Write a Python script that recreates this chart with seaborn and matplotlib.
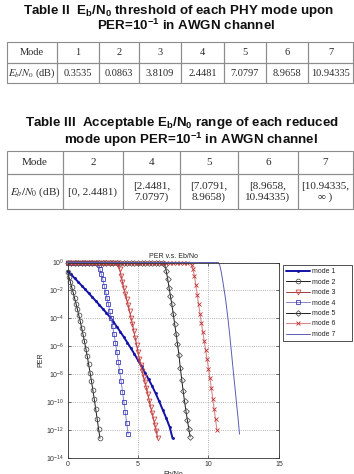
import matplotlib
matplotlib.use("Agg")
import matplotlib.pyplot as plt
from matplotlib.patches import Rectangle
from matplotlib.ticker import NullLocator
import pandas as pd
import seaborn as sns

sns.set_style("ticks")
plt.rcParams["font.family"] = ["Liberation Sans", "DejaVu Sans"]
plt.rcParams["mathtext.rm"] = "Liberation Sans:bold"
plt.rcParams["mathtext.it"] = "Liberation Sans:bold"
plt.rcParams["mathtext.bf"] = "Liberation Sans:bold"

# ---- tables
table2_modes = ["1", "2", "3", "4", "5", "6", "7"]
table2_thresholds = ["0.3535", "0.0863", "3.8109", "2.4481", "7.0797", "8.9658", "10.94335"]
table3_modes = ["2", "4", "5", "6", "7"]
table3_ranges = ["[0, 2.4481)", "[2.4481,\n7.0797)", "[7.0791,\n8.9658)",
                 "[8.9658,\n10.94335)", "[10.94335,\n\u221e )"]

# ---- PER curves (log10 PER)
flat_ebno = [0.0, 0.25, 0.5, 0.75, 1.0, 1.25, 1.5, 1.75, 2.0, 2.25, 2.5, 2.75,
             3.0, 3.25, 3.5, 3.75, 4.0, 4.25, 4.5, 4.75, 5.0, 5.25, 5.5, 5.75,
             6.0, 6.25, 6.5, 6.75, 7.0, 7.25, 7.5, 7.75, 8.0, 8.25, 8.5, 8.75]
flat_until = {"mode 3": 3.5, "mode 4": 2.1, "mode 5": 6.8, "mode 6": 8.6}

mode1_ebno = [0.0, 0.25, 0.5, 0.75, 1.0, 1.25, 1.5, 1.75, 2.0, 2.25, 2.5, 2.75,
              3.0, 3.25, 3.5, 3.75, 4.0, 4.25, 4.5, 4.75, 5.0, 5.25, 5.5, 5.75,
              6.0, 6.25, 6.5, 6.75, 7.0, 7.25, 7.45]
mode1_logper = [-0.6, -0.86, -1.12, -1.38, -1.65, -1.92, -2.2, -2.47, -2.75, -3.03,
                -3.32, -3.6, -3.9, -4.24, -4.6, -4.97, -5.35, -5.75, -6.15, -6.57,
                -7.0, -7.45, -7.9, -8.37, -8.85, -9.38, -9.95, -10.55, -11.15, -11.8, -12.6]

mode2_ebno = [0.0, 0.1, 0.2, 0.3, 0.4, 0.5, 0.6, 0.7, 0.8, 0.9, 1.0, 1.1,
              1.2, 1.3, 1.4, 1.5, 1.6, 1.7, 1.8, 1.9, 2.0, 2.1, 2.2, 2.3]
mode2_logper = [-0.65, -1.02, -1.39, -1.77, -2.15, -2.54, -2.94, -3.35, -3.77, -4.21,
                -4.67, -5.15, -5.65, -6.17, -6.72, -7.3, -7.9, -8.52, -9.16, -9.82,
                -10.5, -11.2, -11.9, -12.6]

mode3_ebno = [3.6, 3.7, 3.8, 3.9, 4.0, 4.1, 4.2, 4.3, 4.4, 4.5, 4.6, 4.7, 4.8, 4.9,
              5.0, 5.1, 5.2, 5.3, 5.4, 5.5, 5.6, 5.7, 5.8, 5.9, 6.0, 6.1, 6.2, 6.3, 6.4]
mode3_logper = [-0.2, -0.5, -0.95, -1.42, -1.85, -2.25, -2.65, -3.05, -3.5, -3.95,
                -4.4, -4.9, -5.4, -5.9, -6.4, -6.9, -7.35, -7.8, -8.2, -8.6,
                -9.0, -9.45, -9.9, -10.35, -10.8, -11.2, -11.65, -12.1, -12.6]

mode4_ebno = [2.2, 2.3, 2.4, 2.5, 2.6, 2.7, 2.8, 2.9, 3.0, 3.1, 3.2,
              3.3, 3.4, 3.5, 3.6, 3.7, 3.8, 3.9, 4.0, 4.1, 4.2, 4.3]
mode4_logper = [-0.15, -0.5, -0.85, -1.2, -1.65, -2.1, -2.55, -3.0, -3.5, -4.0, -4.55,
                -5.15, -5.75, -6.4, -7.1, -7.8, -8.5, -9.25, -10.0, -10.75, -11.5, -12.3]

mode5_ebno = [6.9, 7.0, 7.1, 7.2, 7.3, 7.4, 7.5, 7.6, 7.7, 7.8, 7.9,
              8.0, 8.1, 8.2, 8.3, 8.4, 8.5, 8.6, 8.7]
mode5_logper = [-0.2, -0.6, -1.15, -1.8, -2.4, -3.0, -3.7, -4.4, -5.1, -5.85, -6.6,
                -7.55, -8.4, -9.2, -9.95, -10.65, -11.3, -11.9, -12.5]

mode6_ebno = [8.8, 8.9, 9.0, 9.1, 9.2, 9.3, 9.4, 9.5, 9.6, 9.7, 9.8, 9.9,
              10.0, 10.1, 10.2, 10.3, 10.4, 10.5, 10.6]
mode6_logper = [-0.15, -0.5, -0.95, -1.6, -2.3, -3.0, -3.7, -4.35, -5.0, -5.65, -6.3,
                -6.95, -7.6, -8.3, -9.0, -9.75, -10.5, -11.25, -12.0]

mode7_ebno = [0.0, 10.7, 10.8, 10.9, 11.0, 11.1, 11.2, 11.3, 11.4, 11.5, 11.6,
              11.7, 11.8, 11.9, 12.0, 12.1, 12.2]
mode7_logper = [0.0, 0.0, -0.2, -0.65, -1.25, -1.9, -2.55, -3.35, -4.2, -5.15, -6.15,
                -7.2, -8.2, -9.2, -10.2, -11.2, -12.3]

curves = {
    "mode 1": (mode1_ebno, mode1_logper),
    "mode 2": (mode2_ebno, mode2_logper),
    "mode 3": (mode3_ebno, mode3_logper),
    "mode 4": (mode4_ebno, mode4_logper),
    "mode 5": (mode5_ebno, mode5_logper),
    "mode 6": (mode6_ebno, mode6_logper),
    "mode 7": (mode7_ebno, mode7_logper),
}

rows = []
for name, (xs, ys) in curves.items():
    if name in flat_until:
        for e in flat_ebno:
            if e <= flat_until[name]:
                rows.append((name, e, 0.0))
    for e, lp in zip(xs, ys):
        rows.append((name, e, lp))
df = pd.DataFrame(rows, columns=["mode", "ebno", "logper"])
df["per"] = 10.0 ** df["logper"]

styles = {
    "mode 1": dict(color="#1212a8", lw=1.4, marker=".", ms=3, mfc="#1212a8", mec="#1212a8", mew=0.5),
    "mode 2": dict(color="#1a1a1a", lw=0.7, marker="o", ms=3.4, mfc="none", mec="#555555", mew=0.6),
    "mode 3": dict(color="#a03c3c", lw=0.7, marker="v", ms=3.5, mfc="none", mec="#d04848", mew=0.6),
    "mode 4": dict(color="#8484c8", lw=0.7, marker="s", ms=3.3, mfc="none", mec="#3c3cc0", mew=0.6),
    "mode 5": dict(color="#1a1a1a", lw=0.7, marker="D", ms=2.9, mfc="none", mec="#555555", mew=0.6),
    "mode 6": dict(color="#d88a8a", lw=0.8, marker="x", ms=2.6, mfc="none", mec="#c03030", mew=0.6),
    "mode 7": dict(color="#5c5cb4", lw=0.7, marker=None),
}

W, H = 354, 474
fig = plt.figure(figsize=(W / 100, H / 100), dpi=100, facecolor="white")

# page-like background for the two tables
bg = fig.add_axes([0, 0, 1, 1])
bg.set_xlim(0, W)
bg.set_ylim(H, 0)
bg.axis("off")

LINE = "#8c8c8c"
TXT = "#2a2a2a"


def draw_table(cols, rws, cells, size):
    for r in range(len(rws) - 1):
        for c in range(len(cols) - 1):
            bg.add_patch(Rectangle((cols[c], rws[r]), cols[c + 1] - cols[c], rws[r + 1] - rws[r],
                                   fill=False, ec=LINE, lw=0.8))
            bg.text((cols[c] + cols[c + 1]) / 2, (rws[r] + rws[r + 1]) / 2 + 0.5, cells[r][c],
                    ha="center", va="center", fontsize=size, color=TXT, linespacing=1.3,
                    family=["Liberation Serif", "DejaVu Serif"], math_fontfamily="stix")


title_kw = dict(ha="center", va="baseline", fontsize=9.6, fontweight="bold",
                color="#111111", math_fontfamily="custom")
bg.text(178.5, 14, "Table II  E$_b$/N$_0$ threshold of each PHY mode upon", **title_kw)
bg.text(186.5, 30, "PER=10$^{-1}$ in AWGN channel", **title_kw)
draw_table([7, 57, 99, 139, 181, 224, 266, 308, 353], [42, 62.5, 83],
           [["Mode"] + table2_modes, ["$E_b/N_0$ (dB)"] + table2_thresholds], 7.5)

bg.text(182, 126, "Table III  Acceptable E$_b$/N$_0$ range of each reduced", **title_kw)
bg.text(191, 144, "mode upon PER=10$^{-1}$ in AWGN channel", **title_kw)
draw_table([7, 63, 123, 180, 238, 298, 353], [150.5, 174, 209],
           [["Mode"] + table3_modes, ["$E_b/N_0$ (dB)"] + table3_ranges], 8)

# ---- PER chart
ax = fig.add_axes([67.5 / W, 1 - 457.8 / H, (279 - 67.5) / W, (457.8 - 262.5) / H])
ax.set_yscale("log")
for name in curves:
    sub = df[df["mode"] == name]
    sns.lineplot(data=sub, x="ebno", y="per", ax=ax, estimator=None, sort=False,
                 label=name, clip_on=False, legend=False, **styles[name])

ax.set_xlim(0, 15)
ax.set_ylim(1e-14, 1e0)
ax.set_xticks([0, 5, 10, 15])
ax.set_yticks([1e0, 1e-2, 1e-4, 1e-6, 1e-8, 1e-10, 1e-12, 1e-14])
ax.yaxis.set_minor_locator(NullLocator())
ax.tick_params(direction="in", top=True, right=True, length=2.5, width=0.5,
               labelsize=5, pad=2.5, colors="#333333")
ax.grid(True, which="major", ls=":", color="#9a9a9a", lw=0.6)
for sp in ax.spines.values():
    sp.set_color("#333333")
    sp.set_linewidth(0.6)
ax.set_title("PER v.s. Eb/No", fontsize=5, pad=3, color="#222222")
ax.set_xlabel("Eb/No", fontsize=5, labelpad=2, color="#222222")
ax.set_ylabel("PER", fontsize=5, labelpad=1.5, color="#222222")

leg = ax.legend(loc="upper left", bbox_to_anchor=(283 / W, 1 - 343 / H, 69 / W, 78 / H),
                bbox_transform=fig.transFigure, mode="expand", borderaxespad=0,
                fontsize=5, frameon=True, fancybox=False, framealpha=1, numpoints=1,
                handlelength=3.4, handletextpad=0.35, labelspacing=0.5, borderpad=0.45)
leg.get_frame().set_edgecolor("#333333")
leg.get_frame().set_linewidth(0.6)

fig.savefig("out.png", dpi=100, facecolor="white")
